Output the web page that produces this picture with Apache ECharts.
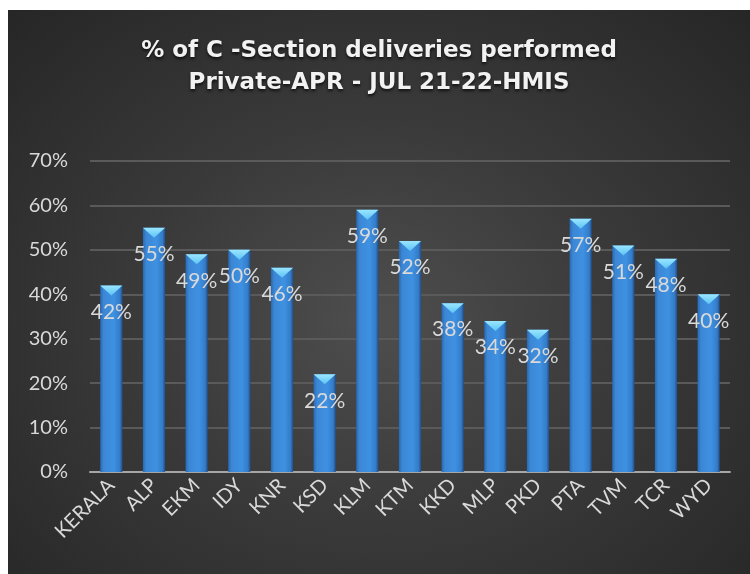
<!DOCTYPE html>
<html>
<head>
<meta charset="utf-8">
<script src="https://cdn.jsdelivr.net/npm/echarts@6/dist/echarts.min.js"></script>
<style>
  html, body { margin: 0; padding: 0; background: #fff; }
  #chart {
    position: absolute; left: 8px; top: 10px; width: 742px; height: 564px;
    background: radial-gradient(ellipse at 50% 55%, #4e4e4e 0%, #3a3a3a 45%, #262626 100%);
  }
</style>
</head>
<body>
<div id="chart"></div>
<script>
const districts = ["KERALA", "ALP", "EKM", "IDY", "KNR", "KSD", "KLM", "KTM", "KKD", "MLP", "PKD", "PTA", "TVM", "TCR", "WYD"];
const csectionPct = [42, 55, 49, 50, 46, 22, 59, 52, 38, 34, 32, 57, 51, 48, 40];
const titleLines = ["% of C -Section deliveries performed", "Private-APR - JUL 21-22-HMIS"];

var myChart = echarts.init(document.getElementById("chart"));
myChart.setOption({
  backgroundColor: "transparent",
  textStyle: { fontFamily: "Lato" },
  title: {
    text: titleLines.join("\n"),
    left: "center",
    top: 20,
    textStyle: {
      color: "#f2f2f2",
      fontSize: 23,
      fontWeight: "bold",
      fontFamily: "DejaVu Sans",
      lineHeight: 32,
      textShadowColor: "rgba(0,0,0,0.7)",
      textShadowBlur: 3,
      textShadowOffsetY: 2,
    },
  },
  grid: { left: 82, right: 20, top: 151, bottom: 102 },
  xAxis: {
    type: "category",
    data: districts,
    axisLine: { lineStyle: { color: "#a6a6a6", width: 2 } },
    axisTick: { show: false },
    axisLabel: {
      color: "#d9d9d9",
      fontSize: 20,
      rotate: 45,
      margin: 10,
    },
  },
  yAxis: {
    type: "value",
    min: 0,
    max: 70,
    interval: 10,
    axisLine: { show: false },
    axisTick: { show: false },
    axisLabel: { color: "#d9d9d9", fontSize: 20, margin: 22, formatter: "{value}%" },
    splitLine: { lineStyle: { color: "#5a5a5a", width: 2 } },
  },
  series: [
    {
      type: "bar",
      data: csectionPct,
      barWidth: "52%",
      barGap: "-100%",
      itemStyle: {
        color: new echarts.graphic.LinearGradient(0, 0, 1, 0, [
          { offset: 0, color: "#2a68b0" },
          { offset: 0.15, color: "#3b87d6" },
          { offset: 0.6, color: "#3f91e2" },
          { offset: 0.88, color: "#347cc9" },
          { offset: 1, color: "#1f4f88" },
        ]),
      },
      label: {
        show: true,
        position: "insideTop",
        distance: 16,
        color: "#d9d9d9",
        fontSize: 21,
        formatter: "{c}%",
      },
    },
    {
      type: "pictorialBar",
      data: csectionPct,
      barWidth: "52%",
      barGap: "-100%",
      symbol: "path://M0,0 L20,0 L10,8 Z",
      symbolPosition: "end",
      symbolSize: ["100%", 10],
      z: 3,
      itemStyle: {
        color: new echarts.graphic.LinearGradient(0, 0, 0, 1, [
          { offset: 0, color: "#9ae6ff" },
          { offset: 1, color: "#5cc4f5" },
        ]),
      },
      silent: true,
    },
  ],
});
</script>
</body>
</html>
